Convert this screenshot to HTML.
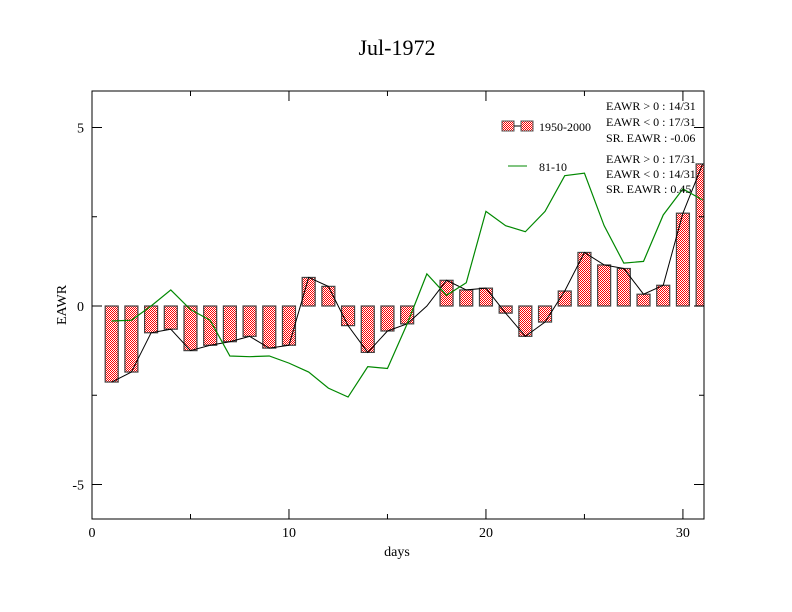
<!DOCTYPE html>
<html><head><meta charset="utf-8"><style>body{margin:0;background:#fff}svg{display:block;font-family:"Liberation Serif",serif}</style></head>
<body>
<svg id="c" width="792" height="612">
<defs>
<pattern id="chk" width="2" height="2" patternUnits="userSpaceOnUse"><rect width="2" height="2" fill="#fff"/><rect width="1" height="1" fill="#f00"/><rect x="1" y="1" width="1" height="1" fill="#f00"/></pattern>
<clipPath id="clip"><rect x="92" y="91" width="612" height="428"/></clipPath>
</defs>
<text x="397" y="55" font-size="22" text-anchor="middle">Jul-1972</text>
<g id="plot" clip-path="url(#clip)"></g>
<rect x="92" y="91" width="612" height="428" fill="none" stroke="#000" stroke-width="1"/>
<g id="axes"></g>
<text x="397" y="556" font-size="14" text-anchor="middle">days</text>
<text transform="translate(66,305) rotate(-90)" font-size="14" text-anchor="middle">EAWR</text>
<g font-size="12">
<rect x="502" y="121" width="12" height="10" fill="url(#chk)" stroke="#555"/>
<line x1="514" y1="126" x2="521" y2="126" stroke="#000"/>
<rect x="521" y="121" width="12" height="10" fill="url(#chk)" stroke="#555"/>
<text x="539" y="131">1950-2000</text>
<line x1="508" y1="166" x2="527" y2="166" stroke="#080"/>
<text x="539" y="171">81-10</text>
<text x="606" y="110">EAWR &gt; 0 : 14/31</text>
<text x="606" y="126">EAWR &lt; 0 : 17/31</text>
<text x="606" y="142">SR. EAWR : -0.06</text>
<text x="606" y="163">EAWR &gt; 0 : 17/31</text>
<text x="606" y="178">EAWR &lt; 0 : 14/31</text>
<text x="606" y="193">SR. EAWR :  0.45</text>
</g>
</svg>
<script>
const days=[1,2,3,4,5,6,7,8,9,10,11,12,13,14,15,16,17,18,19,20,21,22,23,24,25,26,27,28,29,30,31];
const eawr=[-2.13,-1.85,-0.75,-0.65,-1.25,-1.1,-1.0,-0.85,-1.18,-1.1,0.8,0.55,-0.55,-1.3,-0.7,-0.5,0,0.72,0.45,0.5,-0.2,-0.85,-0.45,0.42,1.5,1.15,1.05,0.33,0.58,2.6,3.98];
const clim=[-0.42,-0.4,0.0,0.45,-0.1,-0.4,-1.4,-1.42,-1.4,-1.6,-1.85,-2.3,-2.55,-1.7,-1.75,-0.5,0.9,0.3,0.65,2.65,2.25,2.08,2.65,3.65,3.72,2.25,1.2,1.25,2.55,3.28,2.97];
const xTicks=[0,10,20,30];
const yTicks=[-5,0,5];
const X=d=>92+d*(612/31.07);
const Y=v=>306-v*35.7;
const NS='http://www.w3.org/2000/svg';
function mk(t,a,p){const e=document.createElementNS(NS,t);for(const k in a)e.setAttribute(k,a[k]);p.appendChild(e);return e;}
const plot=document.getElementById('plot'),axes=document.getElementById('axes');
days.forEach((d,i)=>{const v=eawr[i];if(v===0)return;
 const r=mk('rect',{x:X(d)-6.5,y:Math.min(Y(v),Y(0)),width:13,height:Math.abs(Y(v)-Y(0)),fill:'url(#chk)',stroke:'#444','stroke-width':1.2},plot);
 
 });
const bl=mk('polyline',{points:days.map((d,i)=>X(d)+','+Y(eawr[i])).join(' '),fill:'none',stroke:'#000','stroke-width':1},plot);


const gl=mk('polyline',{points:days.map((d,i)=>X(d)+','+Y(clim[i])).join(' '),fill:'none',stroke:'#080','stroke-width':1.2},plot);


xTicks.forEach(t=>{mk('line',{x1:X(t),x2:X(t),y1:519,y2:509,stroke:'#000'},axes);mk('line',{x1:X(t),x2:X(t),y1:91,y2:101,stroke:'#000'},axes);
 const tx=mk('text',{x:X(t),y:537,'font-size':14,'text-anchor':'middle'},axes);tx.textContent=t;
 
 });
[5,15,25].forEach(t=>{mk('line',{x1:X(t),x2:X(t),y1:519,y2:514,stroke:'#000'},axes);mk('line',{x1:X(t),x2:X(t),y1:91,y2:96,stroke:'#000'},axes);});
yTicks.forEach(t=>{mk('line',{x1:92,x2:102,y1:Y(t),y2:Y(t),stroke:'#000'},axes);mk('line',{x1:704,x2:694,y1:Y(t),y2:Y(t),stroke:'#000'},axes);
 const tx=mk('text',{x:84,y:Y(t)+5,'font-size':14,'text-anchor':'end'},axes);tx.textContent=t;
 
 });
[-2.5,2.5].forEach(t=>{mk('line',{x1:92,x2:97,y1:Y(t),y2:Y(t),stroke:'#000'},axes);mk('line',{x1:704,x2:699,y1:Y(t),y2:Y(t),stroke:'#000'},axes);});
</script>
</body></html>
